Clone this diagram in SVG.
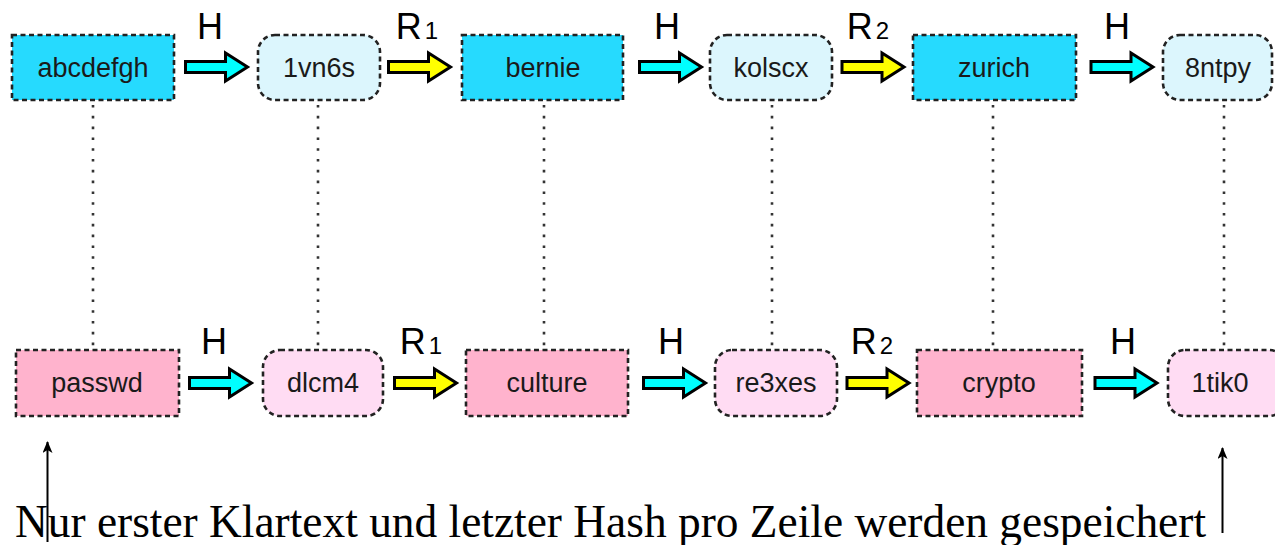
<svg xmlns="http://www.w3.org/2000/svg" width="1275" height="545" viewBox="0 0 1275 545">
<style>
.rc{fill:#26dafe;stroke:#222;stroke-width:2.6;stroke-dasharray:5 3.5}
.ro{fill:#dcf6fd;stroke:#222;stroke-width:2.6;stroke-dasharray:5 3.5}
.pc{fill:#ffb3cd;stroke:#222;stroke-width:2.6;stroke-dasharray:5 3.5}
.po{fill:#ffdcf3;stroke:#222;stroke-width:2.6;stroke-dasharray:5 3.5}
.nt{font-family:"Liberation Sans",Arial,sans-serif;font-size:27px;fill:#1a1a1a;text-anchor:middle}
.lb{font-family:"Liberation Sans",Arial,sans-serif;font-size:36px;fill:#000;text-anchor:middle}
.sb{font-size:24px}
.dot{stroke:#333;stroke-width:2.6;stroke-dasharray:2.6 8.2;fill:none}
.ar{stroke:#000;stroke-width:3;stroke-linejoin:miter}
.cy{fill:#00ffff}
.ye{fill:#ffff00}
.note{font-family:"Liberation Serif","Times New Roman",serif;font-size:45.4px;fill:#000}
.ptr{stroke:#000;stroke-width:2;fill:none}
</style>
<defs>
<path id="arr" d="M0,-5.5 H40 V-14 L62,0 L40,14 V5.5 H0 Z"/>
<marker id="up" viewBox="0 0 12 10" refX="11" refY="5" markerWidth="12" markerHeight="10" markerUnits="userSpaceOnUse" orient="auto">
<path d="M0,0 L12,5 L0,10 L3,5 Z" fill="#000"/>
</marker>
</defs>
<g id="connectors">
<line class="dot" x1="93" y1="105" x2="93" y2="347"/>
<line class="dot" x1="318" y1="105" x2="318" y2="347"/>
<line class="dot" x1="544" y1="105" x2="544" y2="347"/>
<line class="dot" x1="772" y1="105" x2="772" y2="347"/>
<line class="dot" x1="993" y1="105" x2="993" y2="347"/>
<line class="dot" x1="1224" y1="105" x2="1224" y2="347"/>
<use href="#arr" class="ar cy" x="185.5" y="67"/>
<use href="#arr" class="ar ye" x="388.5" y="67"/>
<use href="#arr" class="ar cy" x="639.5" y="67"/>
<use href="#arr" class="ar ye" x="842" y="67"/>
<use href="#arr" class="ar cy" x="1091" y="67"/>
<use href="#arr" class="ar cy" x="189.5" y="383"/>
<use href="#arr" class="ar ye" x="394.5" y="383"/>
<use href="#arr" class="ar cy" x="643.5" y="383"/>
<use href="#arr" class="ar ye" x="847" y="383"/>
<use href="#arr" class="ar cy" x="1095" y="383"/>
<text class="lb" x="210" y="39">H</text>
<text class="lb" x="417" y="39">R<tspan class="sb" dx="3">1</tspan></text>
<text class="lb" x="667" y="39">H</text>
<text class="lb" x="868" y="39">R<tspan class="sb" dx="3">2</tspan></text>
<text class="lb" x="1117" y="39">H</text>
<text class="lb" x="214" y="354">H</text>
<text class="lb" x="421" y="354">R<tspan class="sb" dx="3">1</tspan></text>
<text class="lb" x="671" y="354">H</text>
<text class="lb" x="872" y="354">R<tspan class="sb" dx="3">2</tspan></text>
<text class="lb" x="1123" y="354">H</text>
<line class="ptr" x1="47.5" y1="542" x2="47.5" y2="442" marker-end="url(#up)"/>
<line class="ptr" x1="1222.5" y1="533" x2="1222.5" y2="448" marker-end="url(#up)"/>
</g>
<g id="n-abcdefgh"><rect class="rc" x="12" y="35" width="162" height="65"/><text class="nt" x="93" y="77">abcdefgh</text></g>
<g id="n-1vn6s"><rect class="ro" x="258" y="35" width="122" height="65" rx="17"/><text class="nt" x="319" y="77">1vn6s</text></g>
<g id="n-bernie"><rect class="rc" x="462" y="35" width="161" height="65"/><text class="nt" x="543" y="77">bernie</text></g>
<g id="n-kolscx"><rect class="ro" x="710" y="35" width="122" height="65" rx="17"/><text class="nt" x="771" y="77">kolscx</text></g>
<g id="n-zurich"><rect class="rc" x="913" y="35" width="163" height="65"/><text class="nt" x="994" y="77">zurich</text></g>
<g id="n-8ntpy"><rect class="ro" x="1163" y="35" width="109" height="65" rx="17"/><text class="nt" x="1218" y="77">8ntpy</text></g>
<g id="n-passwd"><rect class="pc" x="16" y="350" width="163" height="66"/><text class="nt" x="97" y="392">passwd</text></g>
<g id="n-dlcm4"><rect class="po" x="263" y="350" width="120" height="66" rx="17"/><text class="nt" x="323" y="392">dlcm4</text></g>
<g id="n-culture"><rect class="pc" x="466" y="350" width="162" height="66"/><text class="nt" x="547" y="392">culture</text></g>
<g id="n-re3xes"><rect class="po" x="715" y="350" width="122" height="66" rx="17"/><text class="nt" x="776" y="392">re3xes</text></g>
<g id="n-crypto"><rect class="pc" x="917" y="350" width="165" height="66"/><text class="nt" x="999" y="392">crypto</text></g>
<g id="n-1tik0"><rect class="po" x="1168" y="350" width="118" height="66" rx="17"/><text class="nt" x="1220" y="392">1tik0</text></g>
<text class="note" x="15" y="537">Nur erster Klartext und letzter Hash pro Zeile werden gespeichert</text>
</svg>
